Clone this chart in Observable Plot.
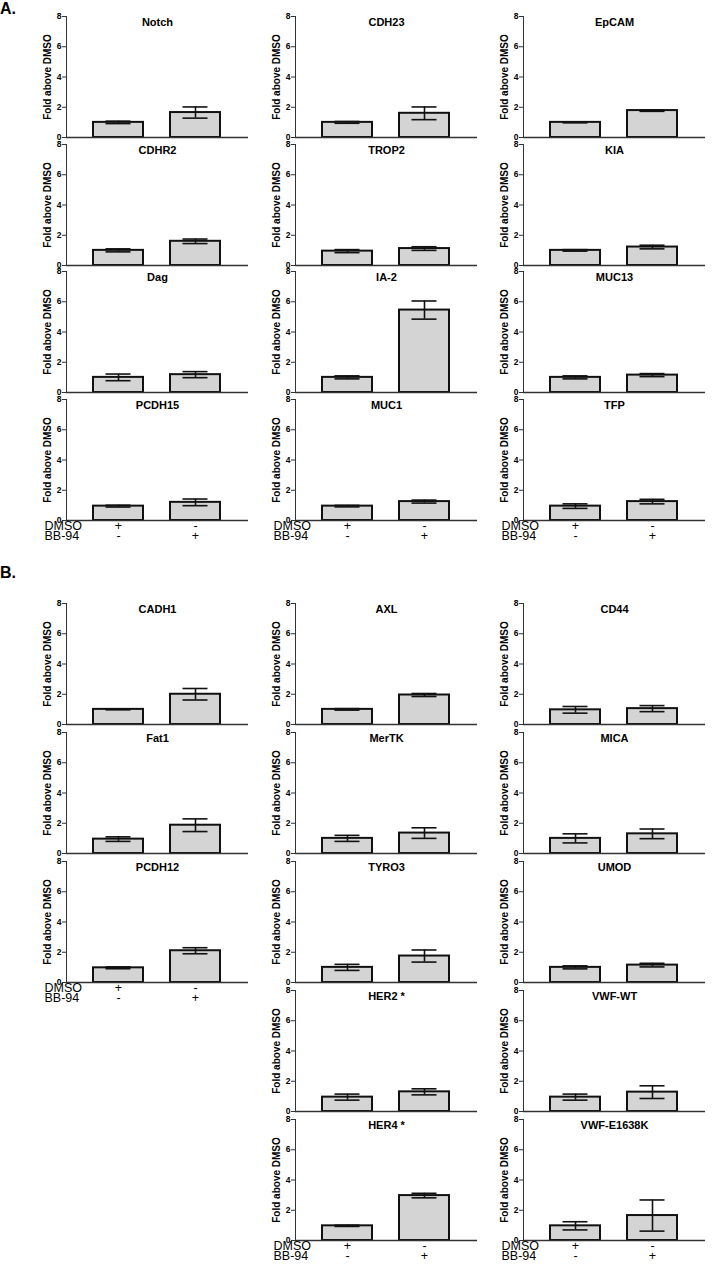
<!DOCTYPE html>
<html>
<head>
<meta charset="utf-8">
<script src="https://cdn.jsdelivr.net/npm/d3@7"></script>
<script src="https://cdn.jsdelivr.net/npm/@observablehq/plot@0.6"></script>
<style>
  body { margin: 0; background: #fff; }
  #fig { position: relative; width: 712px; height: 1266px; overflow: hidden; background: #fff;
         font-family: "Liberation Sans", Arial, sans-serif; }
  .plabel { position: absolute; left: 0; font-weight: bold; font-size: 16px; line-height: 16px; color: #000; }
  .cell { position: absolute; }
</style>
</head>
<body>
<div id="fig">
  <div class="plabel" style="top:1px">A.</div>
  <div class="plabel" style="top:565px">B.</div>
</div>
<script>
// ---------- data ----------
const conditions = ["DMSO", "BB-94"];
const dmsoSigns = ["+", "-"];
const bb94Signs = ["-", "+"];
const yTicks = [0, 2, 4, 6, 8];
const yLabel = "Fold above DMSO";

// Panel A
const genesA      = ["Notch", "CDH23", "EpCAM", "CDHR2", "TROP2", "KIA", "Dag", "IA-2", "MUC13", "PCDH15", "MUC1", "TFP"];
const dmsoMeanA   = [1.0, 1.0, 1.0, 1.0, 0.95, 1.0, 1.0, 1.0, 1.0, 0.95, 0.95, 0.95];
const dmsoErrA    = [0.08, 0.06, 0.03, 0.1, 0.1, 0.05, 0.22, 0.1, 0.1, 0.06, 0.05, 0.15];
const bb94MeanA   = [1.65, 1.6, 1.78, 1.6, 1.12, 1.22, 1.18, 5.45, 1.15, 1.2, 1.25, 1.25];
const bb94ErrA    = [0.37, 0.42, 0.05, 0.15, 0.12, 0.12, 0.2, 0.6, 0.1, 0.22, 0.1, 0.15];

// Panel B
const genesB      = ["CADH1", "AXL", "CD44", "Fat1", "MerTK", "MICA", "PCDH12", "TYRO3", "UMOD", "HER2 *", "VWF-WT", "HER4 *", "VWF-E1638K"];
const dmsoMeanB   = [1.0, 1.0, 0.97, 0.95, 1.0, 1.0, 0.97, 1.0, 1.0, 0.95, 0.95, 0.97, 0.97];
const dmsoErrB    = [0.03, 0.05, 0.22, 0.15, 0.2, 0.3, 0.06, 0.2, 0.1, 0.2, 0.2, 0.04, 0.27];
const bb94MeanB   = [2.0, 1.95, 1.05, 1.87, 1.35, 1.3, 2.1, 1.75, 1.15, 1.3, 1.28, 2.97, 1.65];
const bb94ErrB    = [0.38, 0.1, 0.2, 0.42, 0.35, 0.32, 0.2, 0.4, 0.12, 0.2, 0.42, 0.15, 1.03];

// ---------- layout ----------
const colAxisX = [66, 295, 523];                 // x of each column's y axis
const rowZeroA = [137, 265, 392, 520];           // y of the zero line, panel A rows
const rowZeroB = [724, 853, 982, 1111, 1240];    // panel B rows
const cellsA = genesA.map((g, i) => ({idx: i, row: Math.floor(i / 3), col: i % 3}));
const posB = [[0,0],[0,1],[0,2],[1,0],[1,1],[1,2],[2,0],[2,1],[2,2],[3,1],[3,2],[4,1],[4,2]];
const cellsB = genesB.map((g, i) => ({idx: i, row: posB[i][0], col: posB[i][1]}));
const labelledA = (c) => c.row === 3;
const labelledB = (c) => (c.col === 0 && c.row === 2) || c.row === 4;

const FRAME_H = 121, ML = 26, MR = 4, MT = 6, MB = 4, MB_LAST = 28, XLEN = 182;
const FONT = '"Liberation Sans", Arial, sans-serif';

function cell(title, means, errs, withLabels) {
  const rows = conditions.map((c, i) => ({
    cond: c, mean: means[i], lo: means[i] - errs[i], hi: means[i] + errs[i],
    sign: dmsoSigns[i] + "\n" + bb94Signs[i]
  }));
  const mb = withLabels ? MB_LAST : MB;
  const marks = [
    Plot.barY(rows, {x: "cond", y: "mean", fill: "#d4d4d4", stroke: "#111", strokeWidth: 2}),
    Plot.ruleX(rows, {x: "cond", y1: "lo", y2: "hi", stroke: "#111", strokeWidth: 1.6}),
    Plot.tickY(rows, {x: "cond", y: "hi", stroke: "#111", strokeWidth: 1.6, insetLeft: 12.5, insetRight: 12.5}),
    Plot.tickY(rows, {x: "cond", y: "lo", stroke: "#111", strokeWidth: 1.6, insetLeft: 12.5, insetRight: 12.5}),
    Plot.ruleY([0], {stroke: "#333", strokeWidth: 1.5}),
    Plot.frame({anchor: "left", stroke: "#333", strokeWidth: 1}),
    Plot.axisY({ticks: yTicks, tickSize: 4, tickPadding: 1, label: yLabel, labelAnchor: "center", labelOffset: 23,
                labelArrow: "none", fontWeight: "bold", fontSize: 8.5, stroke: "#333", fill: "#000"}),
    Plot.text([title], {frameAnchor: "top", lineAnchor: "top", dy: 1.5, fontSize: 11, fontWeight: "bold", fill: "#000"})
  ];
  if (withLabels) {
    marks.push(
      Plot.text([conditions.join("\n")], {frameAnchor: "bottom-left", textAnchor: "start", lineAnchor: "top",
        dx: -22, dy: 2.5, fontSize: 12.5, lineHeight: 0.8, fill: "#000"}),
      Plot.text(rows, {x: "cond", text: "sign", frameAnchor: "bottom", lineAnchor: "top",
        dy: 2.5, fontSize: 12.5, lineHeight: 0.8, fill: "#000"})
    );
  }
  const svg = Plot.plot({
    width: ML + XLEN + MR, height: MT + FRAME_H + mb,
    marginLeft: ML, marginRight: MR, marginTop: MT, marginBottom: mb,
    style: {background: "transparent", fontFamily: FONT, fontSize: "8px", color: "#000", overflow: "visible"},
    x: {type: "band", domain: conditions, paddingInner: 0.346, paddingOuter: 0.34, axis: null},
    y: {domain: [0, 8], axis: null},
    marks
  });
  // the axis label is bolder/larger than the tick labels
  svg.querySelectorAll("g[aria-label='y-axis label'] text").forEach(t => {
    t.setAttribute("font-size", "10");
    t.setAttribute("font-weight", "bold");
  });
  return svg;
}

const fig = document.getElementById("fig");
function place(svg, col, zeroY) {
  const wrap = document.createElement("div");
  wrap.className = "cell";
  wrap.style.left = (colAxisX[col] - ML) + "px";
  wrap.style.top = (zeroY - FRAME_H - MT) + "px";
  wrap.appendChild(svg);
  fig.appendChild(wrap);
}
cellsA.forEach(c => {
  const i = c.idx;
  place(cell(genesA[i], [dmsoMeanA[i], bb94MeanA[i]], [dmsoErrA[i], bb94ErrA[i]], labelledA(c)), c.col, rowZeroA[c.row]);
});
cellsB.forEach(c => {
  const i = c.idx;
  place(cell(genesB[i], [dmsoMeanB[i], bb94MeanB[i]], [dmsoErrB[i], bb94ErrB[i]], labelledB(c)), c.col, rowZeroB[c.row]);
});
</script>
</body>
</html>
